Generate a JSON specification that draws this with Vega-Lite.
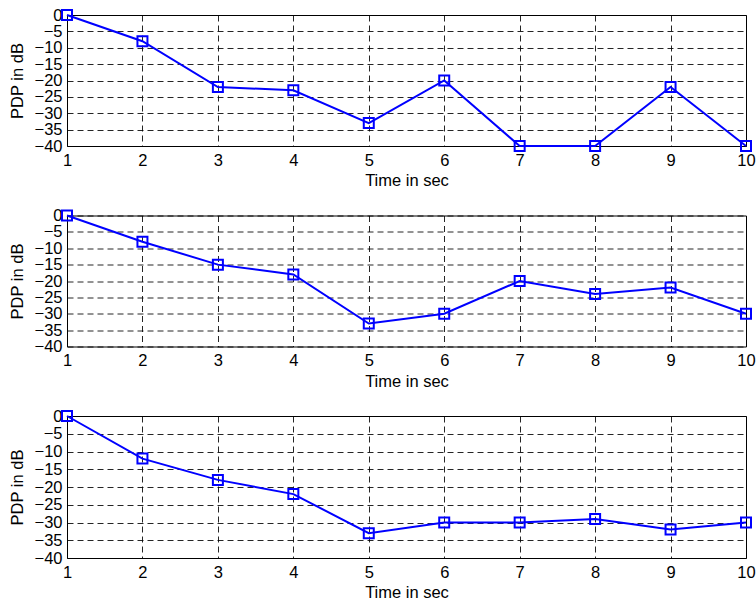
{
  "$schema": "https://vega.github.io/schema/vega-lite/v6.json",
  "autosize": "pad",
  "padding": {"left": 8, "top": 5, "right": 5, "bottom": 5},
  "background": "white",
  "bounds": "flush",
  "spacing": 69.5,
  "datasets": {
    "p1": [
      {"t": 1, "pdp": 0}, {"t": 2, "pdp": -8}, {"t": 3, "pdp": -22}, {"t": 4, "pdp": -23},
      {"t": 5, "pdp": -33}, {"t": 6, "pdp": -20}, {"t": 7, "pdp": -40}, {"t": 8, "pdp": -40},
      {"t": 9, "pdp": -22}, {"t": 10, "pdp": -40}
    ],
    "p2": [
      {"t": 1, "pdp": 0}, {"t": 2, "pdp": -8}, {"t": 3, "pdp": -15}, {"t": 4, "pdp": -18},
      {"t": 5, "pdp": -33}, {"t": 6, "pdp": -30}, {"t": 7, "pdp": -20}, {"t": 8, "pdp": -24},
      {"t": 9, "pdp": -22}, {"t": 10, "pdp": -30}
    ],
    "p3": [
      {"t": 1, "pdp": 0}, {"t": 2, "pdp": -12}, {"t": 3, "pdp": -18}, {"t": 4, "pdp": -22},
      {"t": 5, "pdp": -33}, {"t": 6, "pdp": -30}, {"t": 7, "pdp": -30}, {"t": 8, "pdp": -29},
      {"t": 9, "pdp": -32}, {"t": 10, "pdp": -30}
    ]
  },
  "config": {
    "view": {"stroke": "black", "strokeWidth": 1},
    "font": "Liberation Sans",
    "axis": {
      "labelFont": "Liberation Sans",
      "titleFont": "Liberation Sans",
      "labelFontSize": 16.5,
      "titleFontSize": 16.5,
      "titleFontWeight": "normal",
      "labelColor": "black",
      "titleColor": "black",
      "domain": false,
      "ticks": false,
      "grid": true,
      "gridColor": "black",
      "gridOpacity": 0.85,
      "gridDash": [6, 4],
      "gridWidth": 1,
      "labelFlush": false,
      "labelOverlap": false
    },
    "axisX": {"labelPadding": 6, "titlePadding": 4},
    "axisY": {"labelPadding": 5, "titlePadding": 9}
  },
  "vconcat": [
    {
      "width": 679, "height": 131,
      "data": {"name": "p1"},
      "encoding": {
        "x": {"field": "t", "type": "quantitative", "title": "Time in sec",
              "scale": {"domain": [1, 10], "nice": false},
              "axis": {"values": [1, 2, 3, 4, 5, 6, 7, 8, 9, 10]}},
        "y": {"field": "pdp", "type": "quantitative", "title": "PDP in dB",
              "scale": {"domain": [-40, 0], "nice": false},
              "axis": {"values": [0, -5, -10, -15, -20, -25, -30, -35, -40]}}
      },
      "layer": [
        {"mark": {"type": "line", "color": "#0000ff", "strokeWidth": 2}},
        {"mark": {"type": "point", "shape": "square", "filled": false, "color": "#0000ff", "size": 100, "strokeWidth": 2, "opacity": 1}}
      ]
    },
    {
      "width": 679, "height": 131,
      "data": {"name": "p2"},
      "encoding": {
        "x": {"field": "t", "type": "quantitative", "title": "Time in sec",
              "scale": {"domain": [1, 10], "nice": false},
              "axis": {"values": [1, 2, 3, 4, 5, 6, 7, 8, 9, 10]}},
        "y": {"field": "pdp", "type": "quantitative", "title": "PDP in dB",
              "scale": {"domain": [-40, 0], "nice": false},
              "axis": {"values": [0, -5, -10, -15, -20, -25, -30, -35, -40]}}
      },
      "layer": [
        {"mark": {"type": "line", "color": "#0000ff", "strokeWidth": 2}},
        {"mark": {"type": "point", "shape": "square", "filled": false, "color": "#0000ff", "size": 100, "strokeWidth": 2, "opacity": 1}}
      ]
    },
    {
      "width": 679, "height": 142,
      "data": {"name": "p3"},
      "encoding": {
        "x": {"field": "t", "type": "quantitative", "title": "Time in sec",
              "scale": {"domain": [1, 10], "nice": false},
              "axis": {"values": [1, 2, 3, 4, 5, 6, 7, 8, 9, 10]}},
        "y": {"field": "pdp", "type": "quantitative", "title": "PDP in dB",
              "scale": {"domain": [-40, 0], "nice": false},
              "axis": {"values": [0, -5, -10, -15, -20, -25, -30, -35, -40]}}
      },
      "layer": [
        {"mark": {"type": "line", "color": "#0000ff", "strokeWidth": 2}},
        {"mark": {"type": "point", "shape": "square", "filled": false, "color": "#0000ff", "size": 100, "strokeWidth": 2, "opacity": 1}}
      ]
    }
  ]
}
